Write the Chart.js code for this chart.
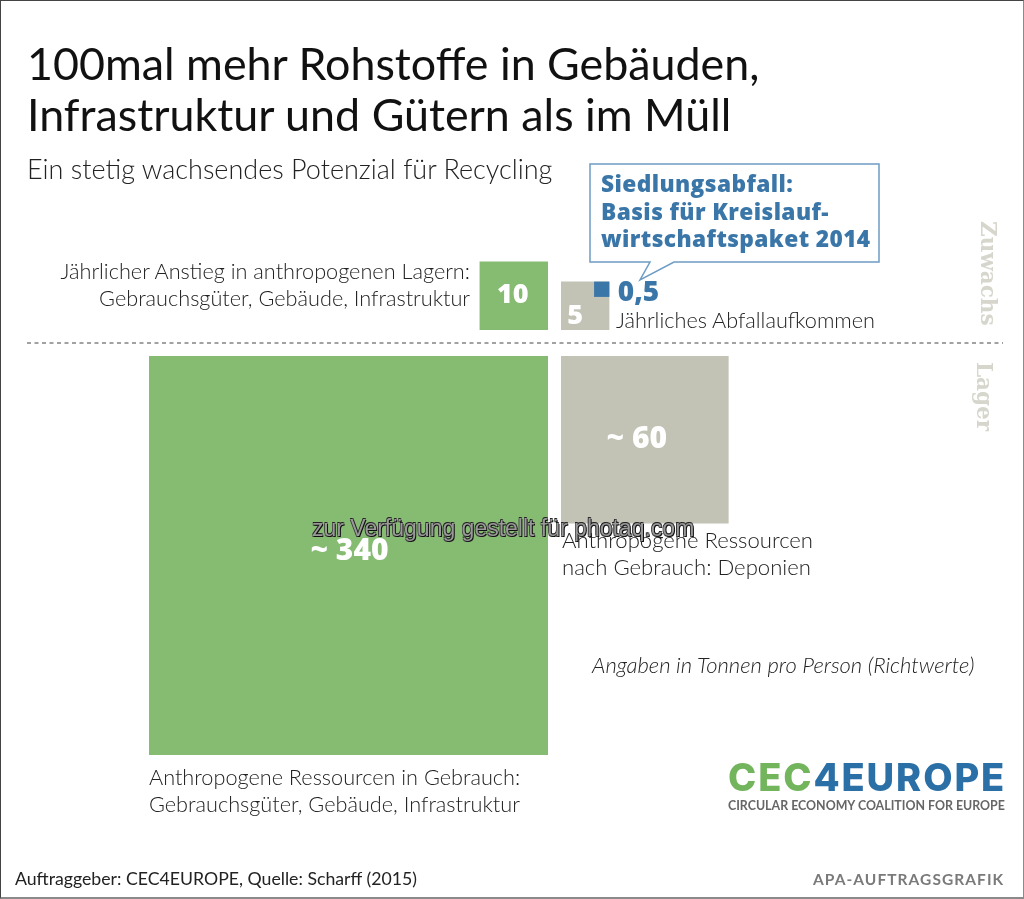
<!DOCTYPE html>
<html lang="de">
<head>
<meta charset="utf-8">
<title>100mal mehr Rohstoffe</title>
<script src="https://cdn.jsdelivr.net/npm/chart.js@4"></script>
<style>
  html, body { margin: 0; padding: 0; background: #fff; }
  #wrap { position: relative; width: 1024px; height: 899px; overflow: hidden; font-family: Lato, sans-serif; font-weight: 300; color: #222; }
  #wrap canvas { position: absolute; left: 0; top: 0; }
  #frame { position: absolute; inset: 0; border: 1px solid #8a8a8a; border-top-color: #444; border-left-color: #444; border-bottom-width: 2px; box-sizing: border-box; pointer-events: none; }
  .t { position: absolute; white-space: nowrap; line-height: 1; }
  .title { font-size: 44.8px; font-weight: 400; color: #111; left: 27px; }
  .lab { font-size: 21.7px; line-height: 27px; }
  .side { font-family: "DejaVu Serif", serif; font-weight: 700; font-size: 21.5px; color: #d6d6cd; transform-origin: 0 0; transform: rotate(90deg); }
  #callout { position: absolute; left: 0; top: 0; }
  .note { font-family: "Open Sans", sans-serif; font-weight: 800; font-size: 22.7px; line-height: 27.5px; color: #3a76a8; letter-spacing: 0.4px; }
  #mark { font-family: "Liberation Sans", sans-serif; font-size: 23px; font-weight: 400; color: #999; text-shadow: 1px 1px 0 #111, -0.6px -0.6px 0 #222, 0.6px -0.6px 0 #444, -0.6px 0.6px 0 #444; }
</style>
</head>
<body>
<div id="wrap">
  <svg id="callout" width="1024" height="899">
    <path d="M590 164 H879 V262 H674 L640 280 L650 262 H590 Z" fill="#fff" stroke="#6e9cc4" stroke-width="1.5"/>
  </svg>
  <canvas id="chart" width="1024" height="899"></canvas>

  <div class="t title" style="top:41px">100mal mehr Rohstoffe in Gebäuden,</div>
  <div class="t title" style="top:92px">Infrastruktur und Gütern als im Müll</div>
  <div class="t" style="left:27px;top:155px;font-size:27px">Ein stetig wachsendes Potenzial für Recycling</div>

  <div class="t lab" style="right:554px;top:258px;text-align:right">Jährlicher Anstieg in anthropogenen Lagern:<br>Gebrauchsgüter, Gebäude, Infrastruktur</div>
  <div class="t lab" style="left:616px;top:307px">Jährliches Abfallaufkommen</div>
  <div class="t note" style="left:601px;top:170px">Siedlungsabfall:<br>Basis für Kreislauf-<br>wirtschaftspaket 2014</div>

  <div class="t side" style="left:999px;top:221px">Zuwachs</div>
  <div class="t side" style="left:995px;top:362px">Lager</div>

  <div class="t lab" style="left:562px;top:526px;font-size:22.1px">Anthropogene Ressourcen<br>nach Gebrauch: Deponien</div>
  <div class="t lab" style="left:149px;top:764px">Anthropogene Ressourcen in Gebrauch:<br>Gebrauchsgüter, Gebäude, Infrastruktur</div>
  <div class="t lab" style="left:592px;top:651px;font-style:italic;font-size:22px">Angaben in Tonnen pro Person (Richtwerte)</div>

  <div class="t" style="left:728px;top:758px;font-family:Inter,sans-serif;font-weight:800;font-size:38px;letter-spacing:1.9px"><span style="color:#72b55c">CEC</span><span style="color:#2a6fa6">4EUROPE</span></div>
  <div class="t" style="left:728px;top:800px;font-family:Lato,sans-serif;font-weight:700;font-size:12.4px;color:#666">CIRCULAR ECONOMY COALITION FOR EUROPE</div>
  <div class="t" style="left:15px;top:870px;font-size:17.7px;font-weight:400">Auftraggeber: CEC4EUROPE, Quelle: Scharff (2015)</div>
  <div class="t" style="left:813px;top:872px;font-size:15.5px;font-weight:700;color:#7a7a7a;letter-spacing:1.05px">APA-AUFTRAGSGRAFIK</div>

  <div class="t" id="mark" style="left:312px;top:517px">zur Verfügung gestellt für photaq.com</div>
  <div id="frame"></div>
</div>

<script>
// Tonnen pro Person (Richtwerte)
const stockNames = ["In Gebrauch", "Deponien"];
const stockValues = [340, 60];
const stockLabels = ["~ 340", "~ 60"];

const flowNames = ["Anstieg Lager", "Abfallaufkommen", "Siedlungsabfall"];
const flowValues = [10, 5, 0.5];
const flowLabels = ["10", "5", "0,5"];

// edge length of a square = sqrt(value), so area carries the value
const edge = (v) => Math.sqrt(v);

const PX_PER_UNIT = 399 / edge(340);
const ORIGIN_X = 554.5;
const ORIGIN_Y = 343;
const GAP_X = 6.5 / PX_PER_UNIT;
const GAP_Y = 13 / PX_PER_UNIT;

const GREEN = "#86bb72";
const GREY = "#c2c2b5";
const BLUE = "#3a76a8";

// squares: left column hangs off the axis to the left, right column to the right
const stockPoints = [
  { x: -GAP_X - edge(stockValues[0]) / 2, y: -GAP_Y - edge(stockValues[0]) / 2, e: edge(stockValues[0]) },
  { x: GAP_X + edge(stockValues[1]) / 2, y: -GAP_Y - edge(stockValues[1]) / 2, e: edge(stockValues[1]) },
];
const flowPoints = [
  { x: -GAP_X - edge(flowValues[0]) / 2, y: GAP_Y + edge(flowValues[0]) / 2, e: edge(flowValues[0]) },
  { x: GAP_X + edge(flowValues[1]) / 2, y: GAP_Y + edge(flowValues[1]) / 2, e: edge(flowValues[1]) },
  // waste square sits in the top right corner of the grey one
  {
    x: GAP_X + edge(flowValues[1]) - edge(flowValues[2]) / 2,
    y: GAP_Y + edge(flowValues[1]) - edge(flowValues[2]) / 2,
    e: edge(flowValues[2]),
  },
];

function squareRadius(ctx) {
  const scale = ctx.chart.scales.x;
  const side = scale.getPixelForValue(ctx.raw.e) - scale.getPixelForValue(0);
  return side / Math.SQRT2;
}

const valueLabels = {
  id: "valueLabels",
  afterDatasetsDraw(chart) {
    const { ctx } = chart;
    ctx.save();
    ctx.textAlign = "center";
    ctx.textBaseline = "middle";

    const stock = chart.getDatasetMeta(0).data;
    const flow = chart.getDatasetMeta(1).data;

    ctx.fillStyle = "#fff";
    ctx.font = "800 30px 'Open Sans'";
    ctx.fillText(stockLabels[0], stock[0].x + 1, stock[0].y - 4);
    ctx.fillText(stockLabels[1], stock[1].x - 8, stock[1].y);
    ctx.font = "800 27px 'Open Sans'";
    ctx.fillText(flowLabels[0], flow[0].x - 1, flow[0].y);
    ctx.fillText(flowLabels[1], flow[1].x - 10, flow[1].y + 11);

    ctx.fillStyle = BLUE;
    ctx.textAlign = "left";
    ctx.font = "800 28px 'Open Sans'";
    ctx.fillText(flowLabels[2], flow[2].x + 16, flow[2].y + 4);
    ctx.restore();
  },
};

new Chart(document.getElementById("chart"), {
  type: "scatter",
  data: {
    datasets: [
      {
        label: "Lager",
        data: stockPoints,
        pointStyle: "rect",
        pointRadius: squareRadius,
        pointHoverRadius: squareRadius,
        pointBorderWidth: 0,
        pointBackgroundColor: [GREEN, GREY],
      },
      {
        label: "Zuwachs",
        data: flowPoints,
        pointStyle: "rect",
        pointRadius: squareRadius,
        pointHoverRadius: squareRadius,
        pointBorderWidth: 0,
        pointBackgroundColor: [GREEN, GREY, BLUE],
      },
      {
        label: "Trennlinie",
        data: [
          { x: (27 - ORIGIN_X) / PX_PER_UNIT, y: 0 },
          { x: (1003 - ORIGIN_X) / PX_PER_UNIT, y: 0 },
        ],
        showLine: true,
        pointRadius: 0,
        borderColor: "#444",
        borderWidth: 1,
        borderDash: [4, 3.5],
      },
    ],
  },
  options: {
    responsive: false,
    animation: false,
    events: [],
    layout: { padding: 0 },
    plugins: {
      legend: { display: false },
      tooltip: { enabled: false },
    },
    scales: {
      x: {
        type: "linear",
        display: false,
        min: -ORIGIN_X / PX_PER_UNIT,
        max: (1024 - ORIGIN_X) / PX_PER_UNIT,
      },
      y: {
        type: "linear",
        display: false,
        min: -(899 - ORIGIN_Y) / PX_PER_UNIT,
        max: ORIGIN_Y / PX_PER_UNIT,
      },
    },
  },
  plugins: [valueLabels],
});
</script>
</body>
</html>
